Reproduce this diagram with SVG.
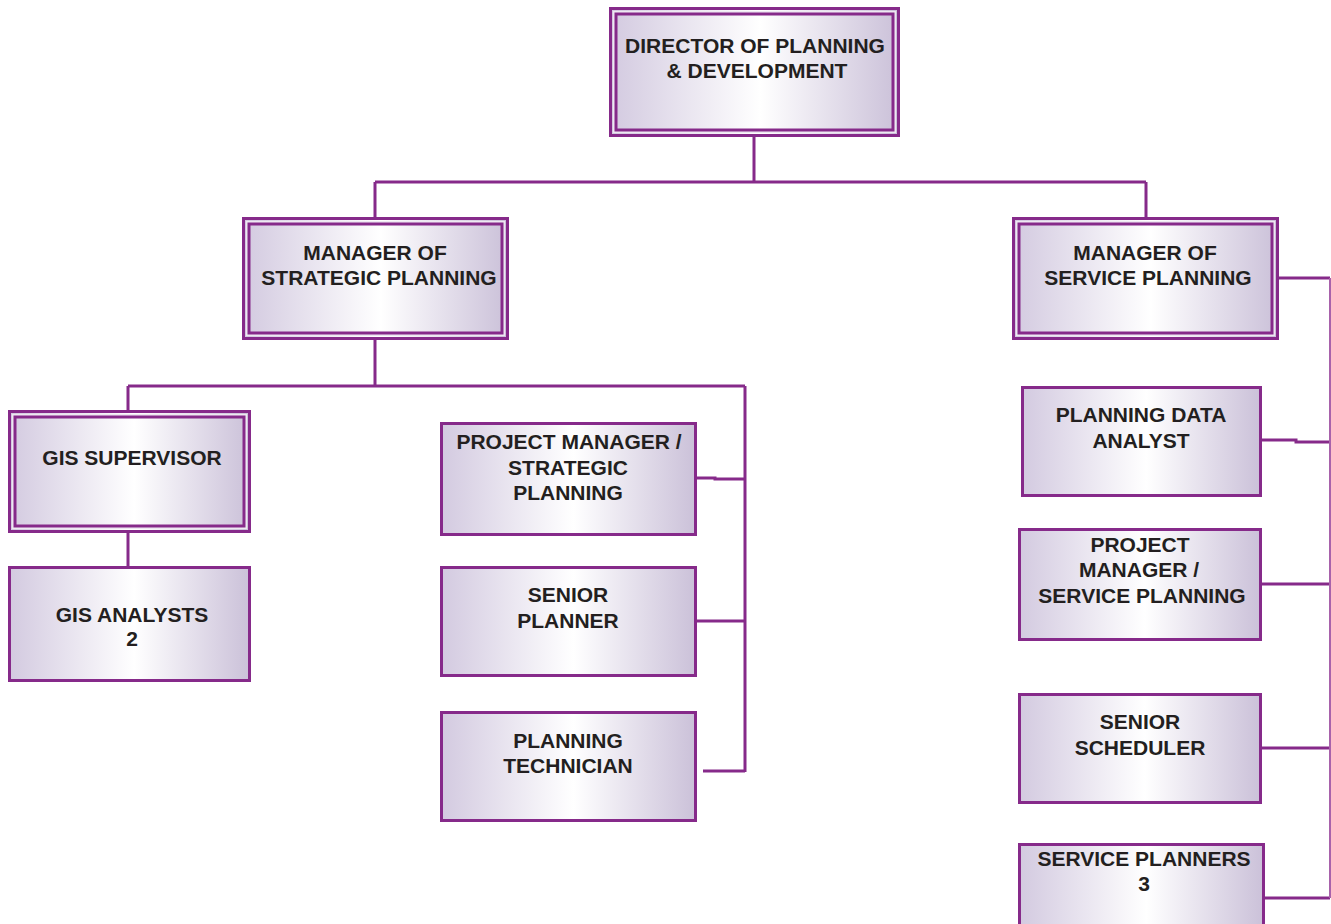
<svg xmlns="http://www.w3.org/2000/svg" width="1331" height="924" viewBox="0 0 1331 924">
  <defs>
    <linearGradient id="fill" x1="0" y1="0" x2="1" y2="0">
      <stop offset="0" stop-color="#d3cae0"/>
      <stop offset="0.52" stop-color="#ffffff"/>
      <stop offset="1" stop-color="#cbc1d9"/>
    </linearGradient>
  </defs>
  <style>
    .box { fill: url(#fill); stroke: #862a8a; stroke-width: 3; }
    .inner { fill: none; stroke: #862a8a; stroke-width: 3; }
    .gap { fill: none; stroke: #eee8f2; stroke-width: 2; }
    .link { fill: none; stroke: #862a8a; stroke-width: 3; }
    .thin { fill: none; stroke: #a862ab; stroke-width: 2; }
    text { font-family: "Liberation Sans", Arial, sans-serif; font-weight: bold; font-size: 21px; fill: #231f20; text-anchor: middle; }
  </style>
  <rect width="1331" height="924" fill="#ffffff"/>

  <!-- connectors -->
  <g id="connectors">
    <path class="link" d="M754 137 V182 M375 182 H1146 M375 182 V218 M1146 182 V218"/>
    <path class="link" d="M375 339 V386 M128 386 H745 M128 386 V410 M745 386 V772"/>
    <path class="link" d="M128 532 V567"/>
    <path class="link" d="M697 478 H715 V479 H745 M695 621 H745 M703 771 H745"/>
    <path class="link" d="M1279 278 H1330 M1261 440 H1296 V442 H1330 M1261 584 H1330 M1261 748 H1330 M1264 898 H1330"/>
    <path class="thin" d="M1330 278 V898"/>
  </g>

  <g id="director">
    <rect class="box" x="610.5" y="8.5" width="288" height="127"/>
    <rect class="gap" x="614" y="12" width="281" height="120"/>
    <rect class="inner" x="616" y="14" width="277" height="116"/>
    <text x="755" y="53">DIRECTOR OF PLANNING</text>
    <text x="757" y="78">&amp; DEVELOPMENT</text>
  </g>

  <g id="mgr-strategic">
    <rect class="box" x="243.5" y="218.5" width="264" height="120"/>
    <rect class="gap" x="247" y="222" width="257" height="113"/>
    <rect class="inner" x="249" y="224" width="253" height="109"/>
    <text x="375" y="260">MANAGER OF</text>
    <text x="379" y="285">STRATEGIC PLANNING</text>
  </g>

  <g id="mgr-service">
    <rect class="box" x="1013.5" y="218.5" width="264" height="120"/>
    <rect class="gap" x="1017" y="222" width="257" height="113"/>
    <rect class="inner" x="1019" y="224" width="253" height="109"/>
    <text x="1145" y="260">MANAGER OF</text>
    <text x="1148" y="285">SERVICE PLANNING</text>
  </g>

  <g id="gis-supervisor">
    <rect class="box" x="9.5" y="411.5" width="240" height="120"/>
    <rect class="gap" x="13" y="415" width="233" height="113"/>
    <rect class="inner" x="15" y="417" width="229" height="109"/>
    <text x="132" y="465">GIS SUPERVISOR</text>
  </g>

  <g id="gis-analysts">
    <rect class="box" x="9.5" y="567.5" width="240" height="113"/>
    <text x="132" y="622">GIS ANALYSTS</text>
    <text x="132" y="646">2</text>
  </g>

  <g id="pm-strategic">
    <rect class="box" x="441.5" y="423.5" width="254" height="111"/>
    <text x="569" y="449">PROJECT MANAGER /</text>
    <text x="568" y="475">STRATEGIC</text>
    <text x="568" y="500">PLANNING</text>
  </g>

  <g id="senior-planner">
    <rect class="box" x="441.5" y="567.5" width="254" height="108"/>
    <text x="568" y="602">SENIOR</text>
    <text x="568" y="628">PLANNER</text>
  </g>

  <g id="planning-technician">
    <rect class="box" x="441.5" y="712.5" width="254" height="108"/>
    <text x="568" y="748">PLANNING</text>
    <text x="568" y="773">TECHNICIAN</text>
  </g>

  <g id="data-analyst">
    <rect class="box" x="1022.5" y="387.5" width="238" height="108"/>
    <text x="1141" y="422">PLANNING DATA</text>
    <text x="1141" y="448">ANALYST</text>
  </g>

  <g id="pm-service">
    <rect class="box" x="1019.5" y="529.5" width="241" height="110"/>
    <text x="1140" y="552">PROJECT</text>
    <text x="1139" y="577">MANAGER /</text>
    <text x="1142" y="603">SERVICE PLANNING</text>
  </g>

  <g id="senior-scheduler">
    <rect class="box" x="1019.5" y="694.5" width="241" height="108"/>
    <text x="1140" y="729">SENIOR</text>
    <text x="1140" y="755">SCHEDULER</text>
  </g>

  <g id="service-planners">
    <rect class="box" x="1019.5" y="844.5" width="244" height="100"/>
    <text x="1144" y="866">SERVICE PLANNERS</text>
    <text x="1144" y="891">3</text>
  </g>
</svg>
